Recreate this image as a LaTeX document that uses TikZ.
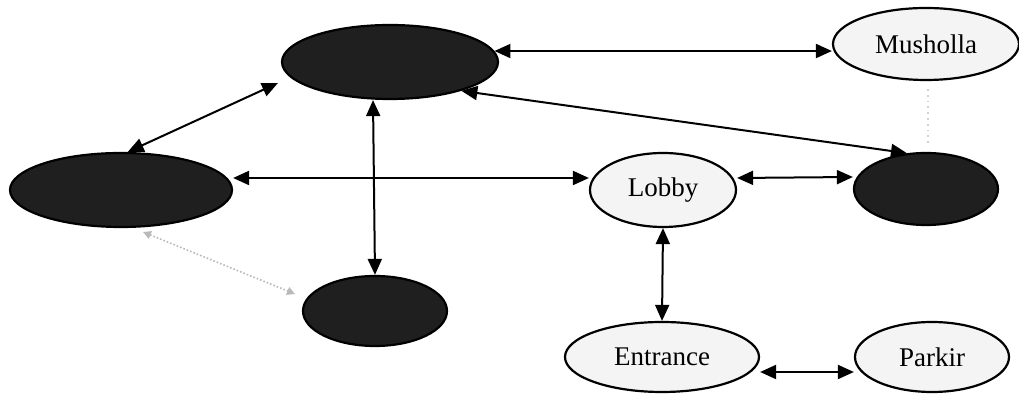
\documentclass[tikz,border=0pt]{standalone}
\usepackage{fontspec}
\setmainfont{Liberation Serif}
\usetikzlibrary{shapes.geometric,arrows.meta,calc}
\tikzset{
  room/.style={ellipse, draw=black, line width=1.1pt, inner sep=0pt},
  lightroom/.style={room, fill=gray!9, font=\fontsize{13.5}{15}\selectfont},
  darkroom/.style={room, fill=black!88},
  link/.style={{Triangle[length=8pt,width=7pt]}-{Triangle[length=8pt,width=7pt]}, line width=1pt},
  faint/.style={{Triangle[length=4pt,width=4pt]}-{Triangle[length=4pt,width=4pt]}, draw=gray!55, densely dotted, line width=0.8pt},
  faintdots/.style={draw=gray!35, dotted, line width=0.9pt}
}
\begin{document}
\begin{tikzpicture}[x=0.5pt,y=-0.5pt]
  \useasboundingbox (0,0) rectangle (1019,394);

  % rooms
  \node[darkroom, minimum width=108pt, minimum height=37pt] (top)   at (390,62)  {};
  \node[darkroom, minimum width=111pt, minimum height=37pt] (left)  at (121,190) {};
  \node[darkroom, minimum width=72pt,  minimum height=35pt] (bot)   at (375,311) {};
  \node[darkroom, minimum width=72pt,  minimum height=36pt] (right) at (926,189) {};
  \node[lightroom, minimum width=93pt, minimum height=36pt] (mush)  at (926,44)  {Musholla};
  \node[lightroom, minimum width=73pt, minimum height=37pt] (lobby) at (663,190) {Lobby};
  \node[lightroom, minimum width=97pt, minimum height=35pt] (ent)   at (662,357) {Entrance};
  \node[lightroom, minimum width=77pt, minimum height=35pt] (park)  at (932,357) {Parkir};

  % links
  \draw[link] (top.6) -- (top.6 -| mush.west);
  \draw[link] (top.-22) -- (right.118);
  \draw[link] ($(top.center)+(-112,21)$) -- (left.80);
  \draw[link] ($(top.south)+(-17,0)$) -- (bot.north);
  \draw[link] ($(left.east)+(0,-12)$) -- ($(lobby.west)+(0,-12)$);
  \draw[link] ($(lobby.east)+(0,-12)$) -- ($(right.west)+(0,-12)$);
  \draw[link] (lobby.south) -- (ent.north);
  \draw[link] ($(ent.east)+(0,15)$) -- ($(park.west)+(0,15)$);

  % faint links
  \draw[faint] ($(left.center)+(22,42)$) -- ($(bot.center)+(-80,-17)$);
  \draw[faintdots] ($(mush.south)+(2,8)$) -- ($(right.north)+(2,-6)$);
\end{tikzpicture}
\end{document}
